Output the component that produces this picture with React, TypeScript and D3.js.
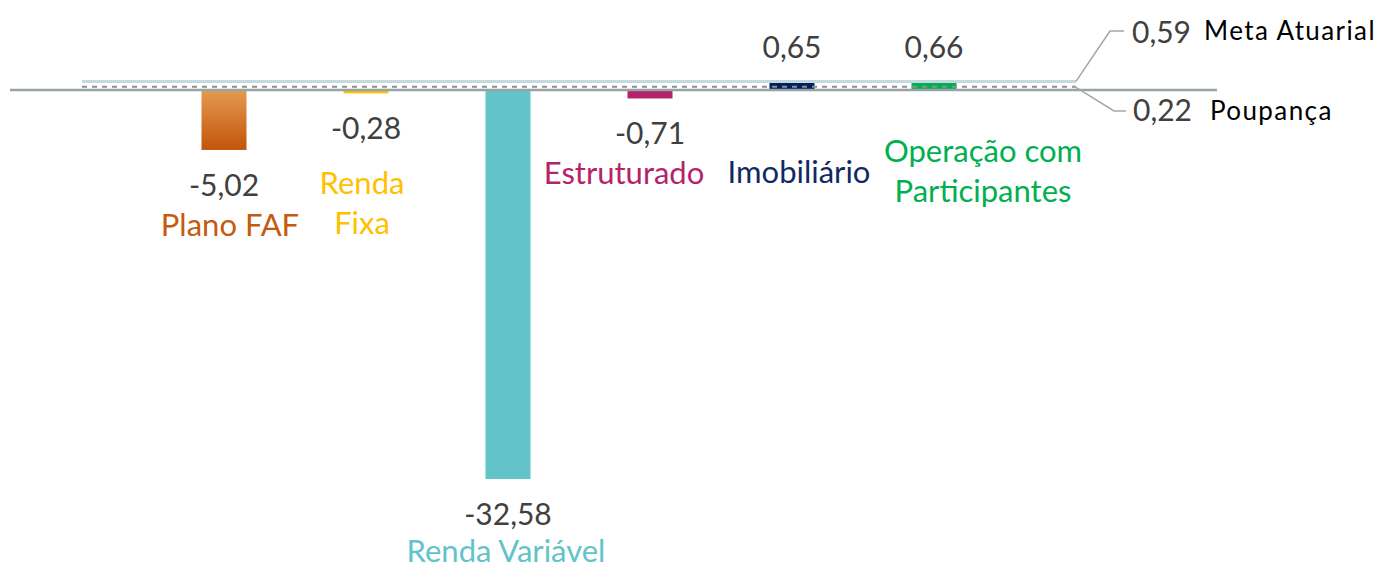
import React, { useEffect, useRef } from "react";
import * as d3 from "d3";

// categories and their results (%)
const categories = ["Plano FAF", "Renda Fixa", "Renda Variável", "Estruturado", "Imobiliário", "Operação com Participantes"];
const labelLines = [["Plano FAF"], ["Renda", "Fixa"], ["Renda Variável"], ["Estruturado"], ["Imobiliário"], ["Operação com", "Participantes"]];
const values = [-5.02, -0.28, -32.58, -0.71, 0.65, 0.66];
const colors = ["url(#fafGrad)", "#ffc000", "#62c3c8", "#b4236a", "#002060", "#00b050"];
const textColors = ["#c55a11", "#ffc000", "#62c3c8", "#b4236a", "#0f2a63", "#00b050"];

// benchmark lines
const metaAtuarial = 0.59;
const poupanca = 0.22;

// label nudges (dx from bar centre, gap below the value label)
const catDx = [6, -4, -2, -26, 7, 49];
const catGap = [40, 55, 37, 40, 93, 72];

const fmt = (v: number) => d3.format(".2f")(v).replace(".", ",").replace("\u2212", "-");

export default function App() {
  const ref = useRef<SVGSVGElement>(null);

  useEffect(() => {
    const svg = d3.select(ref.current);
    svg.selectAll("*").remove();

    const x = d3.scaleBand<string>()
      .domain(categories)
      .range([153, 1005])
      .paddingInner(0.683)
      .paddingOuter(0.683 / 2);

    const y = d3.scaleLinear()
      .domain([d3.min(values) as number, 0])
      .range([479, 90]);

    const step = x.step();
    const cx = (c: string) => (x(c) as number) + x.bandwidth() / 2;
    const lineX0 = cx(categories[0]) - step;
    const lineX1 = cx(categories[categories.length - 1]) + step;

    const defs = svg.append("defs");
    const grad = defs.append("linearGradient")
      .attr("id", "fafGrad")
      .attr("x1", 0).attr("y1", 0).attr("x2", 0).attr("y2", 1);
    grad.append("stop").attr("offset", "0%").attr("stop-color", "#e59a52");
    grad.append("stop").attr("offset", "100%").attr("stop-color", "#c2540a");

    const font = "Lato, 'Open Sans', sans-serif";

    // bars
    svg.append("g")
      .selectAll("rect")
      .data(values)
      .join("rect")
      .attr("x", (d, i) => x(categories[i]) as number)
      .attr("width", x.bandwidth())
      .attr("y", d => Math.min(y(d), y(0)))
      .attr("height", d => Math.abs(y(d) - y(0)))
      .attr("fill", (d, i) => colors[i]);

    // meta atuarial line
    svg.append("line")
      .attr("x1", lineX0).attr("x2", lineX1)
      .attr("y1", y(metaAtuarial) - 1.5).attr("y2", y(metaAtuarial) - 1.5)
      .attr("stroke", "#c5dade")
      .attr("stroke-width", 3);

    // zero axis
    svg.append("line")
      .attr("x1", 10).attr("x2", 1217)
      .attr("y1", y(0)).attr("y2", y(0))
      .attr("stroke", "#97a3a7")
      .attr("stroke-width", 2.5);

    // poupança line
    svg.append("line")
      .attr("x1", lineX0).attr("x2", lineX1)
      .attr("y1", y(poupanca) - 0.5).attr("y2", y(poupanca) - 0.5)
      .attr("stroke", "#8f8f8f")
      .attr("stroke-width", 2)
      .attr("stroke-dasharray", "5,5");

    // leader lines
    const leader = d3.line();
    svg.append("path")
      .attr("d", leader([[lineX1, y(metaAtuarial) - 1.5], [1110, 31], [1124, 31]]))
      .attr("fill", "none").attr("stroke", "#a6a6a6").attr("stroke-width", 1.5);
    svg.append("path")
      .attr("d", leader([[lineX1, y(poupanca)], [1114, 111], [1126, 111]]))
      .attr("fill", "none").attr("stroke", "#a6a6a6").attr("stroke-width", 1.5);

    const bench = svg.append("g").attr("font-family", font);
    bench.append("text").attr("x", 1132).attr("y", 43).attr("font-size", 30).attr("fill", "#404040").text(fmt(metaAtuarial));
    bench.append("text").attr("x", 1204).attr("y", 40).attr("font-size", 26).attr("letter-spacing", 1.4).attr("fill", "#000").text("Meta Atuarial");
    bench.append("text").attr("x", 1133).attr("y", 121).attr("font-size", 30).attr("fill", "#404040").text(fmt(poupanca));
    bench.append("text").attr("x", 1210).attr("y", 120).attr("font-size", 26).attr("letter-spacing", 1.4).attr("fill", "#000").text("Poupança");

    // value labels
    const valueY = (v: number) => (v < 0 ? y(v) + 46 : y(v) - 24);
    svg.append("g")
      .attr("font-family", font)
      .attr("font-size", 30)
      .attr("text-anchor", "middle")
      .attr("fill", "#404040")
      .selectAll("text")
      .data(values)
      .join("text")
      .attr("x", (d, i) => cx(categories[i]))
      .attr("y", d => valueY(d))
      .text(d => fmt(d));

    // category labels
    const cat = svg.append("g")
      .attr("font-family", font)
      .attr("font-size", 31)
      .attr("text-anchor", "middle")
      .selectAll("text")
      .data(values)
      .join("text")
      .attr("fill", (d, i) => textColors[i])
      .attr("transform", (d, i) => {
        const base = d < 0 ? valueY(d) : y(0);
        return `translate(${cx(categories[i]) + catDx[i]},${base + catGap[i]})`;
      });
    cat.selectAll("tspan")
      .data((d, i) => labelLines[i])
      .join("tspan")
      .attr("x", 0)
      .attr("y", (d, j) => j * 40)
      .text(d => d);
  }, []);

  return (
    <svg ref={ref} width={1384} height={568}
      style={{ position: "absolute", left: 0, top: 0, background: "#fff" }} />
  );
}
